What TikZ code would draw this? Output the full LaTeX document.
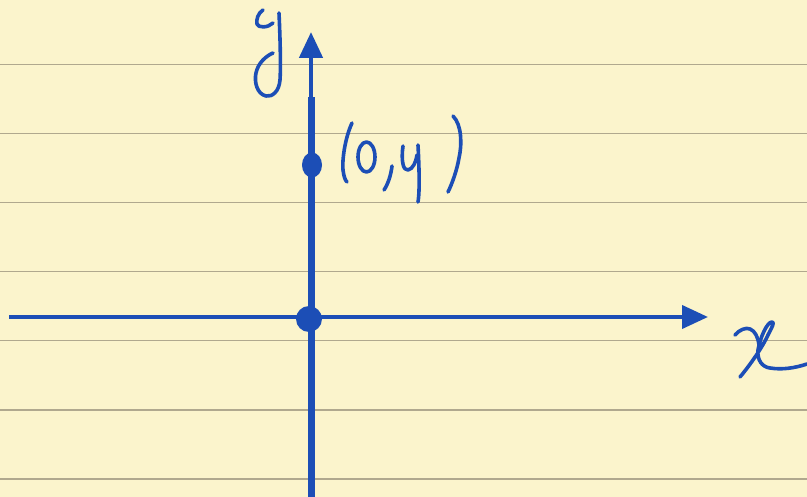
\documentclass[tikz,border=0pt]{standalone}
\usetikzlibrary{arrows.meta}
\definecolor{paper}{RGB}{251,244,204}
\definecolor{rule}{RGB}{176,168,142}
\definecolor{ink}{RGB}{28,78,182}
\tikzset{
  ruling/.style={draw=rule, line width=1.4pt},
  axis/.style={draw=ink, line width=4pt, -{Triangle[width=23pt,length=26pt]}},
  thickaxis/.style={draw=ink, line width=7pt},
  hand/.style={draw=ink, line width=3.6pt, line cap=round, line join=round},
  dotfill/.style={fill=ink, draw=none},
}
\begin{document}
\begin{tikzpicture}[x=1pt,y=-1pt]
\useasboundingbox (0,0) rectangle (807,497);
\fill[paper] (0,0) rectangle (807,497);
% ruled lines
\foreach \yy in {64.5,133.5,202.5,271.5,340.5,410,479}
  \draw[ruling] (0,\yy) -- (807,\yy);
% axis coordinates
\coordinate (xstart) at (9,317);
\coordinate (xend) at (708,317);
\coordinate (ybot) at (311,500);
\coordinate (ymid) at (311,97);
\coordinate (yend) at (311,32);
\coordinate (p) at (312,165);
\coordinate (o) at (309,319);
% axes
\draw[axis] (xstart) -- (xend);
\draw[thickaxis] (ybot) -- (ymid);
\draw[axis, line width=4.6pt] (ymid) -- (yend);
% dots
\fill[dotfill] (p) ellipse [x radius=10, y radius=12.5];
\fill[dotfill] (o) ellipse [x radius=13, y radius=13];
% handwritten y label
\draw[hand] (263,10) .. controls (258,13) and (256,20) .. (257,24)
  .. controls (258,28) and (268,28) .. (273,23);
\draw[hand] (279,13) .. controls (280,35) and (281,65) .. (280,80)
  .. controls (279,92) and (272,97) .. (266,96)
  .. controls (257,94) and (254,82) .. (256,73)
  .. controls (258,63) and (266,56) .. (273,53);
% handwritten (0,y)
\draw[hand] (352,123) .. controls (345,138) and (342,160) .. (343,170)
  .. controls (344,177) and (345,180) .. (347,182);
\draw[hand] (366.5,157) ellipse [x radius=8.5, y radius=15];
\draw[hand] (392,166) .. controls (391,175) and (388,184) .. (384,190);
\draw[hand] (403,146) .. controls (401,160) and (403,171) .. (408,170)
  .. controls (413,169) and (416,162) .. (417,155);
\draw[hand] (418,145) .. controls (419,165) and (420,190) .. (418,202);
\draw[hand] (453,116) .. controls (462,125) and (462,145) .. (459,158)
  .. controls (457,170) and (452,184) .. (448,192);
% handwritten x label
\draw[hand] (735,335) .. controls (739,330) and (746,327) .. (750,329)
  .. controls (755,331) and (758,337) .. (759,345);
\draw[hand] (740,377) .. controls (750,365) and (762,348) .. (768,335)
  .. controls (772,327) and (775,322) .. (772,322)
  .. controls (767,322) and (760,338) .. (758,350)
  .. controls (757,360) and (762,367) .. (770,368)
  .. controls (782,370) and (795,368) .. (807,364);
\end{tikzpicture}
\end{document}
